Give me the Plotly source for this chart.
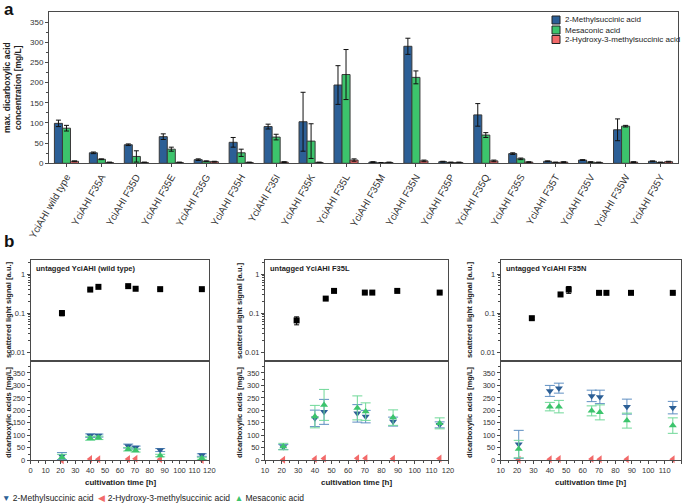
import plotly.graph_objects as go

W, H = 685, 504
FONT = "Liberation Sans, Arial, sans-serif"

# ---- panel a data ----
mutants = ["YciAHI wild type", "YciAHI F35A", "YciAHI F35D", "YciAHI F35E", "YciAHI F35G",
           "YciAHI F35H", "YciAHI F35I", "YciAHI F35K", "YciAHI F35L", "YciAHI F35M",
           "YciAHI F35N", "YciAHI F35P", "YciAHI F35Q", "YciAHI F35S", "YciAHI F35T",
           "YciAHI F35V", "YciAHI F35W", "YciAHI F35Y"]
methylsuccinic = [99, 26, 46, 66, 9, 52, 91, 103, 194, 3, 290, 4, 120, 24, 5, 8, 83, 5]
methylsuccinic_err = [8, 2, 2, 7, 2, 12, 6, 73, 48, 1, 20, 1, 28, 2, 1, 1, 27, 1]
mesaconic = [87, 10, 17, 35, 5, 26, 65, 55, 220, 1, 213, 2, 70, 11, 2, 3, 92, 2]
mesaconic_err = [7, 1, 14, 5, 1, 9, 7, 43, 62, 1, 16, 1, 6, 2, 1, 1, 2, 1]
hydroxy = [5, 2, 2, 2, 4, 2, 3, 2, 8, 2, 6, 2, 6, 3, 3, 2, 3, 4]
hydroxy_err = [1, 1, 1, 1, 1, 1, 1, 1, 3, 1, 2, 1, 2, 1, 1, 1, 1, 1]

# ---- panel b data ----
t_acid = [21, 40, 45.5, 65.5, 70.5, 87, 115]
t_sls_wt = [21, 40, 45.5, 65.5, 70.5, 87, 115]
t_sls_mut = [29, 46.5, 51.5, 70, 74.5, 89.5, 115]

sls_wt = [0.10, 0.40, 0.47, 0.49, 0.42, 0.41, 0.41]
sls_wt_err = [0.015, 0.01, 0.01, 0.01, 0.01, 0.01, 0.01]
sls_l = [0.065, 0.235, 0.37, 0.335, 0.335, 0.37, 0.335]
sls_l_err = [0.015, 0.01, 0.01, 0.01, 0.01, 0.01, 0.01]
sls_n = [0.074, 0.30, 0.40, 0.33, 0.33, 0.33, 0.33]
sls_n_err = [0.005, 0.01, 0.08, 0.01, 0.01, 0.01, 0.01]

ms_wt = [17, 99, 99, 57, 51, 41, 21]
ms_wt_err = [14, 7, 6, 8, 6, 6, 5]
mes_wt = [12, 88, 90, 44, 39, 19, 8]
mes_wt_err = [12, 8, 7, 7, 6, 5, 4]
hm_wt = [0, 5, 4, 5, 6, 4, 1]

ms_l = [53, 168, 194, 188, 175, 155, 142]
ms_l_err = [10, 33, 50, 35, 25, 18, 12]
mes_l = [55, 175, 222, 210, 195, 171, 148]
mes_l_err = [13, 45, 62, 48, 35, 31, 22]
hm_l = [2, 5, 7, 8, 8, 6, 7]

ms_n = [64, 278, 289, 258, 254, 215, 211]
ms_n_err = [56, 22, 20, 23, 27, 30, 25]
mes_n = [45, 215, 215, 198, 192, 159, 139]
mes_n_err = [35, 17, 25, 20, 30, 30, 31]
hm_n = [2, 4, 5, 5, 4, 4, 4]

BLUE, GREEN, RED = "#2c5f96", "#3cc46c", "#f26a6a"
BLUE_L, GREEN_L = "#5f8fc2", "#6fd898"
LINE = "#4a4a4a"
TXT = "#333333"


def px(x):
    return x / W


def py(y):
    return 1 - y / H


fig = go.Figure()

# panel a bars
for name, vals, errs, col in [
    ("2-Methylsuccinic acid", methylsuccinic, methylsuccinic_err, BLUE),
    ("Mesaconic acid", mesaconic, mesaconic_err, GREEN),
    ("2-Hydroxy-3-methylsuccinic acid", hydroxy, hydroxy_err, RED),
]:
    fig.add_trace(go.Bar(
        x=mutants, y=vals, name=name, marker=dict(color=col, line=dict(color="#3a3a3a", width=1)),
        error_y=dict(type="data", array=errs, color="#111", thickness=1, width=2.5),
        xaxis="x", yaxis="y", showlegend=False,
    ))

# panel b
panels = [
    (2, 3, t_sls_wt, sls_wt, sls_wt_err, ms_wt, ms_wt_err, mes_wt, mes_wt_err, hm_wt),
    (4, 5, t_sls_mut, sls_l, sls_l_err, ms_l, ms_l_err, mes_l, mes_l_err, hm_l),
    (6, 7, t_sls_mut, sls_n, sls_n_err, ms_n, ms_n_err, mes_n, mes_n_err, hm_n),
]
for top, bot, tsls, sls, slse, ms, mse, mes, mese, hm in panels:
    fig.add_trace(go.Scatter(
        x=tsls, y=sls, mode="markers", xaxis=f"x{top}", yaxis=f"y{top}",
        marker=dict(symbol="square", size=6, color="#000"),
        error_y=dict(type="data", array=slse, color="#000", thickness=1, width=2.5),
        showlegend=False, cliponaxis=False,
    ))
    fig.add_trace(go.Scatter(
        x=t_acid, y=hm, mode="markers", xaxis=f"x{bot}", yaxis=f"y{bot}",
        marker=dict(symbol="triangle-left", size=7, color=RED),
        showlegend=False, cliponaxis=False,
    ))
    fig.add_trace(go.Scatter(
        x=t_acid, y=ms, mode="markers", xaxis=f"x{bot}", yaxis=f"y{bot}",
        marker=dict(symbol="triangle-down", size=7, color=BLUE),
        error_y=dict(type="data", array=mse, color=BLUE_L, thickness=1, width=5),
        showlegend=False, cliponaxis=False,
    ))
    fig.add_trace(go.Scatter(
        x=t_acid, y=mes, mode="markers", xaxis=f"x{bot}", yaxis=f"y{bot}",
        marker=dict(symbol="triangle-up", size=7, color=GREEN),
        error_y=dict(type="data", array=mese, color=GREEN_L, thickness=1, width=5),
        showlegend=False, cliponaxis=False,
    ))

base_ax = dict(showline=True, linecolor=LINE, linewidth=1, mirror=True, showgrid=False,
               zeroline=False, tickfont=dict(family=FONT, size=8, color=TXT), ticks="outside",
               ticklen=3, tickcolor=LINE, automargin=False)
small = dict(family=FONT, size=7.5, color=TXT)

layout = dict(
    width=W, height=H, margin=dict(l=0, r=0, t=0, b=0),
    paper_bgcolor="white", plot_bgcolor="white",
    font=dict(family=FONT, size=8, color=TXT),
    barmode="group", bargap=0.31, bargroupgap=0,
    showlegend=False,
)
layout["xaxis"] = dict(base_ax, domain=[px(49), px(678)], anchor="y", tickangle=-60,
                       range=[-0.5, 17.5], tickfont=dict(family=FONT, size=10, color=TXT))
layout["yaxis"] = dict(base_ax, domain=[py(163.3), py(12)], anchor="x", range=[0, 375],
                       tickvals=[0, 50, 100, 150, 200, 250, 300, 350],
                       minor=dict(tickvals=[25, 75, 125, 175, 225, 275, 325], ticks="outside",
                                  ticklen=2, tickcolor=LINE))

xdoms = [[px(30.7), px(209.3)], [px(265), px(448)], [px(500.7), px(681)]]
xranges = [[0, 120], [10, 120], [10, 120]]
for i, (top, bot) in enumerate([(2, 3), (4, 5), (6, 7)]):
    dom = xdoms[i]
    r = xranges[i]
    tv = list(range(r[0], 121, 10))
    layout[f"xaxis{top}"] = dict(base_ax, domain=dom, anchor=f"y{top}", range=r,
                                 matches=f"x{bot}", showticklabels=False, ticks="")
    layout[f"yaxis{top}"] = dict(base_ax, domain=[py(360.7), py(260)], anchor=f"x{top}",
                                 type="log", range=[-2.22, 0.36], tickfont=small,
                                 tickvals=[0.01, 0.1, 1], ticktext=["0.01", "0.1", "1"],
                                 minor=dict(tickvals=[0.02, 0.03, 0.04, 0.05, 0.06, 0.07, 0.08, 0.09,
                                                      0.2, 0.3, 0.4, 0.5, 0.6, 0.7, 0.8, 0.9, 2],
                                            ticks="outside", ticklen=2, tickcolor=LINE))
    layout[f"xaxis{bot}"] = dict(base_ax, domain=dom, anchor=f"y{bot}", range=r, tickvals=tv,
                                 tickangle=0, tickfont=small,
                                 minor=dict(tickvals=[v + 5 for v in tv[:-1]], ticks="outside",
                                            ticklen=2, tickcolor=LINE))
    layout[f"yaxis{bot}"] = dict(base_ax, domain=[py(460.3), py(360.7)], anchor=f"x{bot}",
                                 range=[0, 399], tickvals=[0, 50, 100, 150, 200, 250, 300, 350],
                                 tickfont=small,
                                 minor=dict(tickvals=[25, 75, 125, 175, 225, 275, 325, 375],
                                            ticks="outside", ticklen=2, tickcolor=LINE))

fig.update_layout(**layout)

ann = []
P = dict(xref="paper", yref="paper", showarrow=False)
bold = dict(family=FONT, size=7.5, color="#222")
ytitle = dict(family=FONT, size=7.6, color="#222")
ann.append(dict(P, x=px(2), y=py(-2), text="<b>a</b>", xanchor="left", yanchor="top",
                font=dict(family=FONT, size=17, color="#111")))
ann.append(dict(P, x=px(2), y=py(230), text="<b>b</b>", xanchor="left", yanchor="top",
                font=dict(family=FONT, size=17, color="#111")))
ann.append(dict(P, x=px(12), y=py(88), text="<b>max. dicarboxylic acid<br>concentration [mg/L]</b>",
                textangle=-90, xanchor="center", yanchor="middle",
                font=dict(family=FONT, size=8.5, color="#222")))

# panel a legend
leg = [("2-Methylsuccinic acid", BLUE, 20), ("Mesaconic acid", GREEN, 30),
       ("2-Hydroxy-3-methylsuccinic acid", RED, 39.5)]
shapes = []
for name, col, yc in leg:
    shapes.append(dict(type="rect", xref="paper", yref="paper", x0=px(552), x1=px(560),
                       y0=py(yc + 4), y1=py(yc - 4), fillcolor=col, line=dict(color="#222", width=1)))
    ann.append(dict(P, x=px(563), y=py(yc), text=name, xanchor="left",
                    yanchor="middle", font=dict(family=FONT, size=8, color="#222")))

titles = ["untagged YciAHI (wild type)", "untagged YciAHI F35L", "untagged YciAHI F35N"]
ylab_x = [8, 239, 469]
for i, dom in enumerate(xdoms):
    ann.append(dict(P, x=dom[0] + px(3), y=py(262), text=f"<b>{titles[i]}</b>",
                    xanchor="left", yanchor="top", font=bold))
    ann.append(dict(P, x=px(ylab_x[i]), y=py(310), text="<b>scattered light signal [a.u.]</b>",
                    textangle=-90, xanchor="center", yanchor="middle", font=ytitle))
    ann.append(dict(P, x=px(ylab_x[i]), y=py(412), text="<b>dicarboxylic acids [mg/L]</b>",
                    textangle=-90, xanchor="center", yanchor="middle", font=ytitle))
    ann.append(dict(P, x=(dom[0] + dom[1]) / 2, y=py(482), text="<b>cultivation time [h]</b>",
                    xanchor="center", yanchor="middle", font=dict(family=FONT, size=8, color="#222")))

ann.append(dict(P, x=px(0), y=py(498),
                text=(f"<span style='color:{BLUE}'>▼</span> 2-Methylsuccinic acid  "
                      f"<span style='color:{RED}'>◀</span> 2-Hydroxy-3-methylsuccinic acid  "
                      f"<span style='color:{GREEN}'>▲</span> Mesaconic acid"),
                xanchor="left", yanchor="middle",
                font=dict(family=FONT, size=8.5, color="#222")))

fig.update_layout(annotations=ann, shapes=shapes)
fig.write_html("out.html", config={"displayModeBar": False},
               post_script="document.body.style.margin='0';")
